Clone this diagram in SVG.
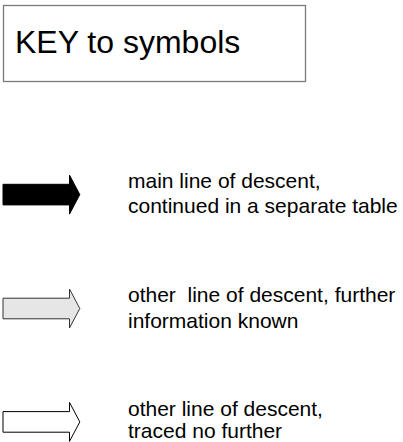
<svg xmlns="http://www.w3.org/2000/svg" width="403" height="442" viewBox="0 0 403 442">
<style>
text{font-family:"Liberation Sans",Arial,sans-serif;fill:#000}
.t{font-size:21px;white-space:pre}
.title{font-size:32px}
.arr{stroke-width:1;stroke-linejoin:miter}
</style>
<defs>
<path id="arrow" d="M3,-10.3 H69.5 V-19.5 L79.8,0 L69.5,19.5 V10.3 H3 Z"/>
</defs>
<rect width="403" height="442" fill="#fff"/>
<g id="key-box">
<rect x="3.5" y="5.5" width="302" height="76" fill="#fff" stroke="#7a7a7a" stroke-width="1.3"/>
<text class="title" x="15" y="53">KEY to symbols</text>
</g>
<g id="main-line">
<use href="#arrow" transform="translate(0,194.6)" fill="#000" stroke="#000" class="arr"/>
<text class="t" x="128" y="188.3">main line of descent,</text>
<text class="t" x="128" y="212.8">continued in a separate table</text>
</g>
<g id="other-known">
<use href="#arrow" transform="translate(0,308.5)" fill="#e6e6e6" stroke="#333" class="arr"/>
<text class="t" x="128" y="302.3" xml:space="preserve">other  line of descent, further</text>
<text class="t" x="128" y="327.5">information known</text>
</g>
<g id="other-untraced">
<use href="#arrow" transform="translate(0,421.9)" fill="#fff" stroke="#000" class="arr"/>
<text class="t" x="128" y="415.5">other line of descent,</text>
<text class="t" x="128" y="438">traced no further</text>
</g>
<g id="connectors"></g>
</svg>
